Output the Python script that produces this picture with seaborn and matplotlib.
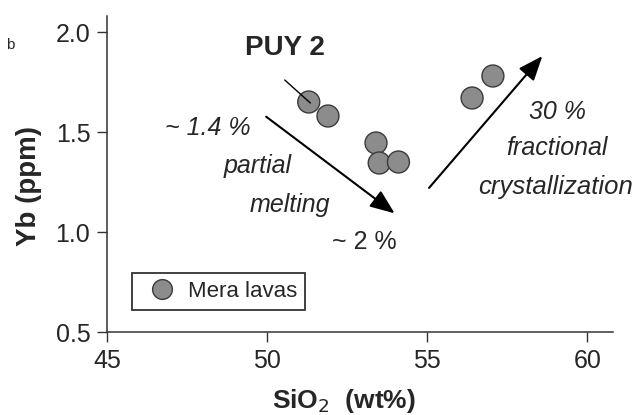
import matplotlib
matplotlib.use("Agg")
import matplotlib.pyplot as plt
import seaborn as sns
import pandas as pd

# Mera lavas
sio2 = [51.3, 51.9, 53.4, 53.5, 54.1, 56.4, 57.05]
yb = [1.65, 1.58, 1.445, 1.345, 1.35, 1.67, 1.78]

x_ticks = [45, 50, 55, 60]
y_ticks = [0.5, 1.0, 1.5, 2.0]

sns.set_style("white")
plt.rcParams["font.family"] = ["Liberation Sans", "DejaVu Sans"]

df = pd.DataFrame({"SiO2": sio2, "Yb": yb, "grupo": "Mera lavas"})

fig = plt.figure(figsize=(6.37, 4.15), dpi=100)
ax = fig.add_axes([107 / 637, (415 - 332) / 415, 506 / 637, 316 / 415])

sns.scatterplot(data=df, x="SiO2", y="Yb", hue="grupo", palette=["#8c8c8c"],
                s=250, edgecolor="#3a3a3a", linewidth=1.0, ax=ax, zorder=3)

ax.set_xlim(45, 60.8)
ax.set_ylim(0.5, 2.08)
ax.set_xticks(x_ticks)
ax.set_yticks(y_ticks)
ax.set_yticklabels([f"{v:.1f}" for v in y_ticks])
ax.tick_params(axis="both", direction="out", length=7, width=1, labelsize=18,
               pad=5, bottom=True, left=True, color="#333333")
for lado in ["top", "right"]:
    ax.spines[lado].set_visible(False)
for lado in ["left", "bottom"]:
    ax.spines[lado].set_color("#333333")
    ax.spines[lado].set_linewidth(1.1)

ax.set_xlabel("SiO$_2$  (wt%)", fontsize=19, fontweight="bold")
ax.set_ylabel("Yb (ppm)", fontsize=20, fontweight="bold")
ax.xaxis.set_label_coords(0.468, -0.175)
ax.yaxis.set_label_coords(-0.128, 0.462)

# flechas
flecha = dict(arrowstyle="-|>,head_length=1.5,head_width=0.6", color="black", lw=1.5)
ax.annotate("", xy=(54.05, 1.085), xytext=(49.9, 1.585), arrowprops=flecha)
ax.annotate("", xy=(58.65, 1.89), xytext=(55.0, 1.21), arrowprops=flecha)

# PUY 2
ax.text(50.55, 1.92, "PUY 2", fontsize=20, fontweight="bold", ha="center", va="center")
ax.plot([50.55, 51.35], [1.76, 1.645], color="black", lw=1.0, zorder=4)

ax.text(48.15, 1.52, "~ 1.4 %", fontsize=18, style="italic", ha="center", va="center")
ax.text(49.7, 1.33, "partial", fontsize=18, style="italic", ha="center", va="center")
ax.text(50.72, 1.135, "melting", fontsize=18, style="italic", ha="center", va="center")
ax.text(53.03, 0.95, "~ 2 %", fontsize=18, ha="center", va="center")
ax.text(59.06, 1.6, "30 %", fontsize=18, style="italic", ha="center", va="center")
ax.text(59.06, 1.42, "fractional", fontsize=18, style="italic", ha="center", va="center")
ax.text(59.0, 1.225, "crystallization", fontsize=18.5, style="italic", ha="center", va="center")

leg = ax.legend(loc="lower left", bbox_to_anchor=(0.049, 0.07), fontsize=16,
                frameon=True, fancybox=False, handletextpad=0.2, borderpad=0.35,
                borderaxespad=0, markerscale=0.9)
leg.get_frame().set_edgecolor("black")
leg.get_frame().set_linewidth(1.3)

fig.text(10 / 637, 1 - 45 / 415, "b", fontsize=11, ha="center", va="center")

fig.savefig("out.png", dpi=100)
